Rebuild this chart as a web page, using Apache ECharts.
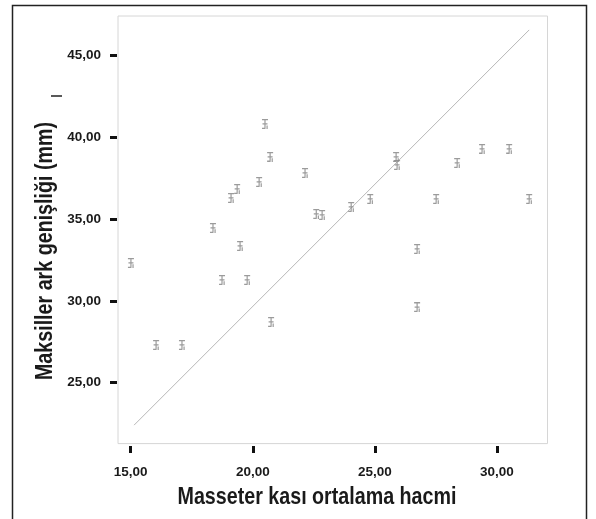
<!DOCTYPE html>
<html>
<head>
<meta charset="utf-8">
<script src="https://cdn.jsdelivr.net/npm/echarts@6/dist/echarts.min.js"></script>
<style>html,body{margin:0;padding:0;background:#fff}#c{width:596px;height:519px}</style>
</head>
<body>
<div id="c"></div>
<script>
// Data
var masseterVolume = [15.01,16.04,17.10,18.37,18.74,19.11,19.36,19.48,19.77,20.26,20.50,20.71,20.75,22.14,22.60,22.84,24.03,24.81,25.87,25.91,26.73,26.73,27.51,28.37,29.39,30.50,31.32];
var archWidth      = [32.32,27.30,27.30,34.46,31.28,36.29,36.84,33.36,31.28,37.27,40.81,38.80,28.71,37.82,35.31,35.25,35.74,36.23,38.80,38.31,33.17,29.62,36.23,38.43,39.29,39.29,36.23];
var lineX = [15.14, 31.32];
var lineY = [22.41, 46.56];
var xTicks = [15, 20, 25, 30];
var yTicks = [25, 30, 35, 40, 45];
var xTitle = 'Masseter kası ortalama hacmi';
var yTitle = 'Maksiller ark genişliği (mm)';

var pts = masseterVolume.map(function(v, i){ return [v, archWidth[i]]; });
var linePts = lineX.map(function(v, i){ return [v, lineY[i]]; });
function fmt(v){ return v.toFixed(2).replace('.', ','); }
var FAM = '"Liberation Sans", Arial, sans-serif';
var labFont = {fontFamily:FAM, fontWeight:'bold', fontSize:13.5, color:'#1a1a1a'};
var titleFont = 'bold 24px "Liberation Sans", Arial, sans-serif';

var chart = echarts.init(document.getElementById('c'), null, {renderer:'canvas'});
chart.setOption({
  animation:false,
  backgroundColor:'#fff',
  grid:{left:118, top:16, width:429.5, height:427.6, show:true, borderColor:'#d6d6d6', borderWidth:1, backgroundColor:'#fff'},
  xAxis:{
    type:'value', min:14.48, max:32.07, offset:2.5,
    axisLine:{show:false},
    splitLine:{show:false},
    axisTick:{show:true, length:7, customValues:xTicks, lineStyle:{color:'#111', width:3}},
    axisLabel:Object.assign({customValues:xTicks, margin:19, formatter:fmt}, labFont)
  },
  yAxis:{
    type:'value', min:21.28, max:47.41, offset:1,
    axisLine:{show:false},
    splitLine:{show:false},
    axisTick:{show:true, length:7, customValues:yTicks, lineStyle:{color:'#111', width:3}},
    axisLabel:Object.assign({customValues:yTicks, margin:16, formatter:fmt}, labFont)
  },
  graphic:[
    {type:'rect', shape:{x:12.5, y:5.5, width:574, height:530}, style:{fill:'none', stroke:'#222', lineWidth:1.5}, silent:true, z:100},
    {type:'line', shape:{x1:51, y1:96, x2:62, y2:96}, style:{stroke:'#222', lineWidth:1.5}, silent:true},
    {type:'text', x:317, y:497.5, scaleX:0.82, scaleY:1,
      style:{text:xTitle, font:titleFont, fill:'#1a1a1a', align:'center', verticalAlign:'middle'}, silent:true},
    {type:'text', x:45, y:251, rotation:Math.PI/2, scaleX:0.82, scaleY:1,
      style:{text:yTitle, font:titleFont, fill:'#1a1a1a', align:'center', verticalAlign:'middle'}, silent:true}
  ],
  series:[
    {
      type:'line', data:linePts, showSymbol:false, symbol:'none',
      lineStyle:{color:'#b8b8b8', width:1}, z:2
    },
    {
      type:'scatter', data:pts,
      symbol:'path://M0,0h6v1.2h-6z M2.4,1.2h1.2v7h-1.2z M0.5,4h5v1.2h-5z M0,8.2h3.5v1.2h-3.5z M4.5,6h1.2v3.4h-1.2z',
      symbolSize:[6,10],
      itemStyle:{color:'#8a8a8a', opacity:0.85},
      z:3
    }
  ]
});
</script>
</body>
</html>
